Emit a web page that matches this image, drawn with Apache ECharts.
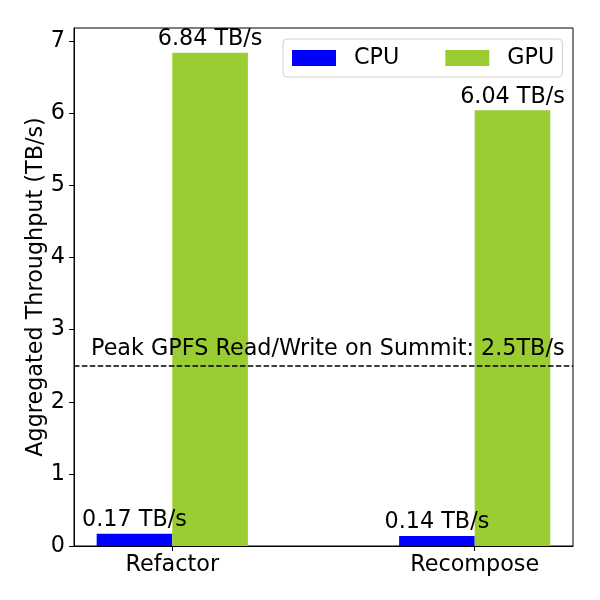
<!DOCTYPE html>
<html>
<head>
<meta charset="utf-8">
<script src="https://cdn.jsdelivr.net/npm/echarts@6/dist/echarts.min.js"></script>
<style>html,body{margin:0;padding:0;background:#fff}#c{width:600px;height:600px}</style>
</head>
<body>
<div id="c"></div>
<script>
var categories = ['Refactor', 'Recompose'];
var seriesNames = ['CPU', 'GPU'];
var cpuValues = [0.17, 0.14];
var gpuValues = [6.84, 6.04];
var yTicks = [0, 1, 2, 3, 4, 5, 6, 7];
var peakValue = 2.5;
var peakText = 'Peak GPFS Read/Write on Summit: 2.5TB/s';

var FONT = 'DejaVu Sans';
var FS = 22.3;
var barW = 0.25;
var catPos = categories.map(function (c, i) { return i; });

var chart = echarts.init(document.getElementById('c'), null, {renderer: 'canvas'});
chart.setOption({
  animation: false,
  backgroundColor: '#fff',
  grid: {left: 74, right: 27, top: 28, bottom: 54, show: true, borderColor: '#000', borderWidth: 1, backgroundColor: 'transparent'},
  legend: {
    data: seriesNames,
    left: 283, top: 39,
    itemWidth: 44, itemHeight: 16, itemGap: 46,
    padding: [8, 8, 8, 9],
    borderColor: '#d0d0d0', borderWidth: 1, borderRadius: 4,
    backgroundColor: '#fff',
    textStyle: {fontFamily: FONT, fontSize: FS, color: '#000', padding: [0, 0, 0, 13]},
    icon: 'rect'
  },
  xAxis: {
    type: 'value', min: -0.325, max: 1.325,
    axisLine: {show: true, onZero: false, lineStyle: {color: '#000', width: 1}},
    axisTick: {show: true, length: 5, lineStyle: {color: '#000'}, customValues: catPos},
    axisLabel: {customValues: catPos, fontFamily: FONT, fontSize: FS, color: '#000', margin: 8,
      formatter: function (v) { var i = Math.round(v); return categories[i] || ''; }},
    splitLine: {show: false}
  },
  yAxis: {
    type: 'value', min: 0, max: 7.182,
    name: 'Aggregated Throughput (TB/s)', nameLocation: 'middle', nameGap: 27, nameMoveOverlap: false,
    nameTextStyle: {fontFamily: FONT, fontSize: FS, color: '#000'},
    axisLine: {show: true, onZero: false, lineStyle: {color: '#000', width: 1}},
    axisTick: {show: true, length: 5, lineStyle: {color: '#000'}, customValues: yTicks},
    axisLabel: {customValues: yTicks, fontFamily: FONT, fontSize: FS, color: '#000', margin: 9},
    splitLine: {show: false}
  },
  series: [
    {
      name: 'CPU', type: 'bar', barWidth: 75.6, barGap: '-100%',
      itemStyle: {color: '#0000ff'},
      data: cpuValues.map(function (v, i) { return [catPos[i] - barW / 2, v]; }),
      label: {show: true, position: 'top', distance: 3, fontFamily: FONT, fontSize: FS, color: '#000',
        formatter: function (p) { return p.value[1].toFixed(2) + ' TB/s'; }}
    },
    {
      name: 'GPU', type: 'bar', barWidth: 75.6, barGap: '-100%',
      itemStyle: {color: '#9acd32'},
      data: gpuValues.map(function (v, i) { return [catPos[i] + barW / 2, v]; }),
      label: {show: true, position: 'top', distance: 2, fontFamily: FONT, fontSize: FS, color: '#000',
        formatter: function (p) { return p.value[1].toFixed(2) + ' TB/s'; }},
      markLine: {
        silent: true, symbol: 'none', animation: false,
        lineStyle: {color: '#000', width: 1.5, type: [5.5, 2.4]},
        label: {show: true, position: 'insideStartTop', distance: [17, 5], fontFamily: FONT, fontSize: FS, color: '#000', formatter: peakText},
        data: [{yAxis: peakValue}]
      }
    }
  ]
});
</script>
</body>
</html>
